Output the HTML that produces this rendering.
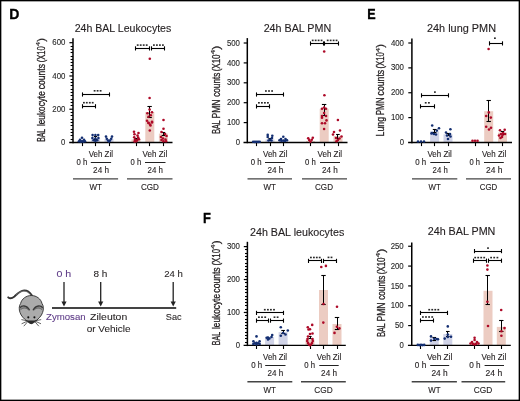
<!DOCTYPE html>
<html><head><meta charset="utf-8"><style>
html,body{margin:0;padding:0;background:#fff;}
body{width:520px;height:401px;overflow:hidden;font-family:"Liberation Sans", sans-serif;}
svg{display:block;}
</style></head><body>
<div style="will-change:transform;width:520px;height:401px"><svg width="520" height="401" viewBox="0 0 520 401" font-family='"Liberation Sans", sans-serif'>
<rect x="0" y="0" width="520" height="401" fill="#fff"/>
<text x="9.3" y="19" font-size="14" font-weight="bold" fill="#000" stroke="#000" stroke-width="0.3">D</text>
<text x="367.2" y="19.1" font-size="14" textLength="8.4" lengthAdjust="spacingAndGlyphs" font-weight="bold" fill="#000" stroke="#000" stroke-width="0.3">E</text>
<text x="202.9" y="223" font-size="14" textLength="7.9" lengthAdjust="spacingAndGlyphs" font-weight="bold" fill="#000" stroke="#000" stroke-width="0.3">F</text>
<rect x="77.5" y="141" width="9" height="1.5" fill="#d0d3e7"/>
<rect x="91.1" y="138.2" width="9" height="4.3" fill="#d0d3e7"/>
<rect x="104.5" y="139.2" width="9" height="3.3" fill="#d0d3e7"/>
<rect x="131.5" y="139.5" width="9" height="3" fill="#ecccc2"/>
<rect x="145.3" y="112.1" width="9" height="30.4" fill="#ecccc2"/>
<rect x="158.9" y="133.6" width="9" height="8.9" fill="#ecccc2"/>
<text x="74.7" y="32" font-size="10.2" textLength="96.6" lengthAdjust="spacingAndGlyphs" fill="#231f20" stroke="#231f20" stroke-width="0.12">24h BAL Leukocytes</text>
<text transform="translate(45.2,141.85) rotate(-90)" font-size="10.3" fill="#231f20" stroke="#231f20" stroke-width="0.3" textLength="12.8" lengthAdjust="spacingAndGlyphs">BAL</text>
<text transform="translate(45.2,126.05) rotate(-90)" font-size="10.3" fill="#231f20" stroke="#231f20" stroke-width="0.3" textLength="34.8" lengthAdjust="spacingAndGlyphs">leukocyte</text>
<text transform="translate(45.2,89.25) rotate(-90)" font-size="10.3" fill="#231f20" stroke="#231f20" stroke-width="0.3" textLength="25.2" lengthAdjust="spacingAndGlyphs">counts</text>
<text transform="translate(45.2,62.25) rotate(-90)" font-size="10.3" fill="#231f20" stroke="#231f20" stroke-width="0.3" textLength="16" lengthAdjust="spacingAndGlyphs">(X10</text>
<text transform="translate(40.3,46.31) rotate(-90)" font-size="6.0" fill="#231f20" stroke="#231f20" stroke-width="0.12" textLength="4.53" lengthAdjust="spacingAndGlyphs">4</text>
<text transform="translate(45.2,41.82) rotate(-90)" font-size="10.3" fill="#231f20" stroke="#231f20" stroke-width="0.3" textLength="3.77" lengthAdjust="spacingAndGlyphs">)</text>
<line x1="73" y1="38.2" x2="73" y2="143.2" stroke="#000" stroke-width="1.5"/>
<line x1="69.2" y1="142.5" x2="172.5" y2="142.5" stroke="#000" stroke-width="1.3"/>
<text x="65.4" y="145.1" font-size="8.6" text-anchor="end" textLength="4.3" lengthAdjust="spacingAndGlyphs" fill="#2a2a2a" stroke="#2a2a2a" stroke-width="0.12">0</text>
<line x1="69.4" y1="109.23" x2="73" y2="109.23" stroke="#000" stroke-width="1.2"/>
<text x="65.4" y="111.83" font-size="8.6" text-anchor="end" textLength="13.1" lengthAdjust="spacingAndGlyphs" fill="#2a2a2a" stroke="#2a2a2a" stroke-width="0.12">200</text>
<line x1="69.4" y1="75.97" x2="73" y2="75.97" stroke="#000" stroke-width="1.2"/>
<text x="65.4" y="78.57" font-size="8.6" text-anchor="end" textLength="13.1" lengthAdjust="spacingAndGlyphs" fill="#2a2a2a" stroke="#2a2a2a" stroke-width="0.12">400</text>
<line x1="69.4" y1="42.7" x2="73" y2="42.7" stroke="#000" stroke-width="1.2"/>
<text x="65.4" y="45.3" font-size="8.6" text-anchor="end" textLength="13.1" lengthAdjust="spacingAndGlyphs" fill="#2a2a2a" stroke="#2a2a2a" stroke-width="0.12">600</text>
<line x1="70.6" y1="139.5" x2="73" y2="139.5" stroke="#000" stroke-width="1.1"/>
<line x1="70.6" y1="135.5" x2="73" y2="135.5" stroke="#000" stroke-width="1.1"/>
<line x1="70.6" y1="132.5" x2="73" y2="132.5" stroke="#000" stroke-width="1.1"/>
<line x1="70.6" y1="129.5" x2="73" y2="129.5" stroke="#000" stroke-width="1.1"/>
<line x1="70.6" y1="125.5" x2="73" y2="125.5" stroke="#000" stroke-width="1.1"/>
<line x1="70.6" y1="122.5" x2="73" y2="122.5" stroke="#000" stroke-width="1.1"/>
<line x1="70.6" y1="119.5" x2="73" y2="119.5" stroke="#000" stroke-width="1.1"/>
<line x1="70.6" y1="115.5" x2="73" y2="115.5" stroke="#000" stroke-width="1.1"/>
<line x1="70.6" y1="112.5" x2="73" y2="112.5" stroke="#000" stroke-width="1.1"/>
<line x1="70.6" y1="105.5" x2="73" y2="105.5" stroke="#000" stroke-width="1.1"/>
<line x1="70.6" y1="102.5" x2="73" y2="102.5" stroke="#000" stroke-width="1.1"/>
<line x1="70.6" y1="99.5" x2="73" y2="99.5" stroke="#000" stroke-width="1.1"/>
<line x1="70.6" y1="95.5" x2="73" y2="95.5" stroke="#000" stroke-width="1.1"/>
<line x1="70.6" y1="92.5" x2="73" y2="92.5" stroke="#000" stroke-width="1.1"/>
<line x1="70.6" y1="89.5" x2="73" y2="89.5" stroke="#000" stroke-width="1.1"/>
<line x1="70.6" y1="85.5" x2="73" y2="85.5" stroke="#000" stroke-width="1.1"/>
<line x1="70.6" y1="82.5" x2="73" y2="82.5" stroke="#000" stroke-width="1.1"/>
<line x1="70.6" y1="79.5" x2="73" y2="79.5" stroke="#000" stroke-width="1.1"/>
<line x1="70.6" y1="72.5" x2="73" y2="72.5" stroke="#000" stroke-width="1.1"/>
<line x1="70.6" y1="69.5" x2="73" y2="69.5" stroke="#000" stroke-width="1.1"/>
<line x1="70.6" y1="65.5" x2="73" y2="65.5" stroke="#000" stroke-width="1.1"/>
<line x1="70.6" y1="62.5" x2="73" y2="62.5" stroke="#000" stroke-width="1.1"/>
<line x1="70.6" y1="59.5" x2="73" y2="59.5" stroke="#000" stroke-width="1.1"/>
<line x1="70.6" y1="56.5" x2="73" y2="56.5" stroke="#000" stroke-width="1.1"/>
<line x1="70.6" y1="52.5" x2="73" y2="52.5" stroke="#000" stroke-width="1.1"/>
<line x1="70.6" y1="49.5" x2="73" y2="49.5" stroke="#000" stroke-width="1.1"/>
<line x1="70.6" y1="46.5" x2="73" y2="46.5" stroke="#000" stroke-width="1.1"/>
<line x1="82.5" y1="142.5" x2="82.5" y2="146.1" stroke="#000" stroke-width="1.1"/>
<line x1="95.5" y1="142.5" x2="95.5" y2="146.1" stroke="#000" stroke-width="1.1"/>
<line x1="109.5" y1="142.5" x2="109.5" y2="146.1" stroke="#000" stroke-width="1.1"/>
<line x1="136.5" y1="142.5" x2="136.5" y2="146.1" stroke="#000" stroke-width="1.1"/>
<line x1="149.5" y1="142.5" x2="149.5" y2="146.1" stroke="#000" stroke-width="1.1"/>
<line x1="163.5" y1="142.5" x2="163.5" y2="146.1" stroke="#000" stroke-width="1.1"/>
<line x1="95.5" y1="136.8" x2="95.5" y2="139.4" stroke="#000" stroke-width="1.0"/>
<line x1="93.9" y1="136.5" x2="97.1" y2="136.5" stroke="#000" stroke-width="1.1"/>
<line x1="93.9" y1="139.5" x2="97.1" y2="139.5" stroke="#000" stroke-width="1.1"/>
<line x1="136.5" y1="138.4" x2="136.5" y2="140.2" stroke="#000" stroke-width="1.0"/>
<line x1="134.4" y1="138.5" x2="137.6" y2="138.5" stroke="#000" stroke-width="1.1"/>
<line x1="134.4" y1="140.5" x2="137.6" y2="140.5" stroke="#000" stroke-width="1.1"/>
<line x1="149.5" y1="106.6" x2="149.5" y2="117.3" stroke="#000" stroke-width="1.0"/>
<line x1="147.4" y1="106.5" x2="151.8" y2="106.5" stroke="#000" stroke-width="1.1"/>
<line x1="147.4" y1="117.5" x2="151.8" y2="117.5" stroke="#000" stroke-width="1.1"/>
<line x1="163.5" y1="132" x2="163.5" y2="135" stroke="#000" stroke-width="1.0"/>
<line x1="161.6" y1="132.5" x2="165.2" y2="132.5" stroke="#000" stroke-width="1.1"/>
<line x1="161.6" y1="135.5" x2="165.2" y2="135.5" stroke="#000" stroke-width="1.1"/>
<line x1="82.3" y1="94.5" x2="109.2" y2="94.5" stroke="#000" stroke-width="1.1"/>
<line x1="82.5" y1="92.4" x2="82.5" y2="96.6" stroke="#000" stroke-width="1.1"/>
<line x1="109.5" y1="92.4" x2="109.5" y2="96.6" stroke="#000" stroke-width="1.1"/>
<rect x="93.7" y="90" width="1.8" height="1.6" fill="#2a2a2a"/>
<rect x="96.7" y="90" width="1.8" height="1.6" fill="#2a2a2a"/>
<rect x="99.7" y="90" width="1.8" height="1.6" fill="#2a2a2a"/>
<line x1="82" y1="106.5" x2="95" y2="106.5" stroke="#000" stroke-width="1.1"/>
<line x1="82.5" y1="104.2" x2="82.5" y2="108.4" stroke="#000" stroke-width="1.1"/>
<line x1="95.5" y1="104.2" x2="95.5" y2="108.4" stroke="#000" stroke-width="1.1"/>
<rect x="83" y="101.9" width="1.8" height="1.6" fill="#2a2a2a"/>
<rect x="85.9" y="101.9" width="1.8" height="1.6" fill="#2a2a2a"/>
<rect x="88.9" y="101.9" width="1.8" height="1.6" fill="#2a2a2a"/>
<rect x="91.8" y="101.9" width="1.8" height="1.6" fill="#2a2a2a"/>
<line x1="135.5" y1="48.5" x2="149.8" y2="48.5" stroke="#000" stroke-width="1.1"/>
<line x1="135.5" y1="46.3" x2="135.5" y2="50.5" stroke="#000" stroke-width="1.1"/>
<line x1="149.5" y1="46.3" x2="149.5" y2="50.5" stroke="#000" stroke-width="1.1"/>
<rect x="136.8" y="44.3" width="1.8" height="1.6" fill="#2a2a2a"/>
<rect x="139.8" y="44.3" width="1.8" height="1.6" fill="#2a2a2a"/>
<rect x="142.8" y="44.3" width="1.8" height="1.6" fill="#2a2a2a"/>
<rect x="145.8" y="44.3" width="1.8" height="1.6" fill="#2a2a2a"/>
<line x1="151.2" y1="48.5" x2="164.5" y2="48.5" stroke="#000" stroke-width="1.1"/>
<line x1="151.5" y1="46.3" x2="151.5" y2="50.5" stroke="#000" stroke-width="1.1"/>
<line x1="164.5" y1="46.3" x2="164.5" y2="50.5" stroke="#000" stroke-width="1.1"/>
<rect x="153" y="44.3" width="1.8" height="1.6" fill="#2a2a2a"/>
<rect x="156" y="44.3" width="1.8" height="1.6" fill="#2a2a2a"/>
<rect x="159" y="44.3" width="1.8" height="1.6" fill="#2a2a2a"/>
<rect x="162" y="44.3" width="1.8" height="1.6" fill="#2a2a2a"/>
<text x="88.8" y="157.2" font-size="8.2" textLength="24.1" lengthAdjust="spacingAndGlyphs" fill="#231f20" stroke="#231f20" stroke-width="0.12">Veh Zil</text>
<text x="76.6" y="165" font-size="8.2" textLength="10.8" lengthAdjust="spacingAndGlyphs" fill="#231f20" stroke="#231f20" stroke-width="0.12">0 h</text>
<line x1="90.8" y1="162.5" x2="111.1" y2="162.5" stroke="#222" stroke-width="1.0"/>
<text x="93.1" y="173.1" font-size="8.2" textLength="15.9" lengthAdjust="spacingAndGlyphs" fill="#231f20" stroke="#231f20" stroke-width="0.12">24 h</text>
<line x1="73" y1="178.9" x2="118.1" y2="178.9" stroke="#444" stroke-width="1.4"/>
<text x="89.5" y="189.6" font-size="8.2" textLength="12.4" lengthAdjust="spacingAndGlyphs" fill="#231f20" stroke="#231f20" stroke-width="0.12">WT</text>
<text x="142.6" y="157.2" font-size="8.2" textLength="24.6" lengthAdjust="spacingAndGlyphs" fill="#231f20" stroke="#231f20" stroke-width="0.12">Veh Zil</text>
<text x="130.6" y="165" font-size="8.2" textLength="10.6" lengthAdjust="spacingAndGlyphs" fill="#231f20" stroke="#231f20" stroke-width="0.12">0 h</text>
<line x1="145" y1="162.5" x2="165.5" y2="162.5" stroke="#222" stroke-width="1.0"/>
<text x="147.6" y="173.1" font-size="8.2" textLength="15.4" lengthAdjust="spacingAndGlyphs" fill="#231f20" stroke="#231f20" stroke-width="0.12">24 h</text>
<line x1="127" y1="178.9" x2="172.5" y2="178.9" stroke="#444" stroke-width="1.4"/>
<text x="140.9" y="189.6" font-size="8.2" textLength="18" lengthAdjust="spacingAndGlyphs" fill="#231f20" stroke="#231f20" stroke-width="0.12">CGD</text>
<rect x="265.5" y="139.5" width="9" height="3" fill="#d0d3e7"/>
<rect x="278.8" y="140" width="9" height="2.5" fill="#d0d3e7"/>
<rect x="306" y="141" width="9" height="1.5" fill="#ecccc2"/>
<rect x="319.7" y="108.8" width="9" height="33.7" fill="#ecccc2"/>
<rect x="333.5" y="136" width="9" height="6.5" fill="#ecccc2"/>
<text x="263.65" y="31.8" font-size="10.2" textLength="67.5" lengthAdjust="spacingAndGlyphs" fill="#231f20" stroke="#231f20" stroke-width="0.12">24h BAL PMN</text>
<text transform="translate(219.7,133.75) rotate(-90)" font-size="10.3" fill="#231f20" stroke="#231f20" stroke-width="0.3" textLength="13.6" lengthAdjust="spacingAndGlyphs">BAL</text>
<text transform="translate(219.7,118.55) rotate(-90)" font-size="10.3" fill="#231f20" stroke="#231f20" stroke-width="0.3" textLength="19.1" lengthAdjust="spacingAndGlyphs">PMN</text>
<text transform="translate(219.7,96.85) rotate(-90)" font-size="10.3" fill="#231f20" stroke="#231f20" stroke-width="0.3" textLength="24.2" lengthAdjust="spacingAndGlyphs">counts</text>
<text transform="translate(219.7,71.35) rotate(-90)" font-size="10.3" fill="#231f20" stroke="#231f20" stroke-width="0.3" textLength="16.91" lengthAdjust="spacingAndGlyphs">(X10</text>
<text transform="translate(214.8,54.46) rotate(-90)" font-size="6.0" fill="#231f20" stroke="#231f20" stroke-width="0.12" textLength="4.75" lengthAdjust="spacingAndGlyphs">4</text>
<text transform="translate(219.7,49.69) rotate(-90)" font-size="10.3" fill="#231f20" stroke="#231f20" stroke-width="0.3" textLength="3.94" lengthAdjust="spacingAndGlyphs">)</text>
<line x1="247.3" y1="38.1" x2="247.3" y2="143.2" stroke="#000" stroke-width="1.5"/>
<line x1="243.5" y1="142.5" x2="347.5" y2="142.5" stroke="#000" stroke-width="1.3"/>
<text x="240" y="145.1" font-size="8.6" text-anchor="end" textLength="4.3" lengthAdjust="spacingAndGlyphs" fill="#2a2a2a" stroke="#2a2a2a" stroke-width="0.12">0</text>
<line x1="243.7" y1="122.6" x2="247.3" y2="122.6" stroke="#000" stroke-width="1.2"/>
<text x="240" y="125.2" font-size="8.6" text-anchor="end" textLength="13.1" lengthAdjust="spacingAndGlyphs" fill="#2a2a2a" stroke="#2a2a2a" stroke-width="0.12">100</text>
<line x1="243.7" y1="102.7" x2="247.3" y2="102.7" stroke="#000" stroke-width="1.2"/>
<text x="240" y="105.3" font-size="8.6" text-anchor="end" textLength="13.1" lengthAdjust="spacingAndGlyphs" fill="#2a2a2a" stroke="#2a2a2a" stroke-width="0.12">200</text>
<line x1="243.7" y1="82.8" x2="247.3" y2="82.8" stroke="#000" stroke-width="1.2"/>
<text x="240" y="85.4" font-size="8.6" text-anchor="end" textLength="13.1" lengthAdjust="spacingAndGlyphs" fill="#2a2a2a" stroke="#2a2a2a" stroke-width="0.12">300</text>
<line x1="243.7" y1="62.9" x2="247.3" y2="62.9" stroke="#000" stroke-width="1.2"/>
<text x="240" y="65.5" font-size="8.6" text-anchor="end" textLength="13.1" lengthAdjust="spacingAndGlyphs" fill="#2a2a2a" stroke="#2a2a2a" stroke-width="0.12">400</text>
<line x1="243.7" y1="43" x2="247.3" y2="43" stroke="#000" stroke-width="1.2"/>
<text x="240" y="45.6" font-size="8.6" text-anchor="end" textLength="13.1" lengthAdjust="spacingAndGlyphs" fill="#2a2a2a" stroke="#2a2a2a" stroke-width="0.12">500</text>
<line x1="256.5" y1="142.5" x2="256.5" y2="146.1" stroke="#000" stroke-width="1.1"/>
<line x1="270.5" y1="142.5" x2="270.5" y2="146.1" stroke="#000" stroke-width="1.1"/>
<line x1="283.5" y1="142.5" x2="283.5" y2="146.1" stroke="#000" stroke-width="1.1"/>
<line x1="310.5" y1="142.5" x2="310.5" y2="146.1" stroke="#000" stroke-width="1.1"/>
<line x1="324.5" y1="142.5" x2="324.5" y2="146.1" stroke="#000" stroke-width="1.1"/>
<line x1="338.5" y1="142.5" x2="338.5" y2="146.1" stroke="#000" stroke-width="1.1"/>
<line x1="270.5" y1="138.8" x2="270.5" y2="140.5" stroke="#000" stroke-width="1.0"/>
<line x1="268.4" y1="138.5" x2="271.6" y2="138.5" stroke="#000" stroke-width="1.1"/>
<line x1="268.4" y1="140.5" x2="271.6" y2="140.5" stroke="#000" stroke-width="1.1"/>
<line x1="324.5" y1="104" x2="324.5" y2="115.3" stroke="#000" stroke-width="1.0"/>
<line x1="321.9" y1="104.5" x2="326.3" y2="104.5" stroke="#000" stroke-width="1.1"/>
<line x1="321.9" y1="115.5" x2="326.3" y2="115.5" stroke="#000" stroke-width="1.1"/>
<line x1="337.5" y1="134.1" x2="337.5" y2="138" stroke="#000" stroke-width="1.0"/>
<line x1="336.1" y1="134.5" x2="339.7" y2="134.5" stroke="#000" stroke-width="1.1"/>
<line x1="336.1" y1="138.5" x2="339.7" y2="138.5" stroke="#000" stroke-width="1.1"/>
<line x1="256.7" y1="94.5" x2="283.5" y2="94.5" stroke="#000" stroke-width="1.1"/>
<line x1="256.5" y1="92.4" x2="256.5" y2="96.6" stroke="#000" stroke-width="1.1"/>
<line x1="283.5" y1="92.4" x2="283.5" y2="96.6" stroke="#000" stroke-width="1.1"/>
<rect x="265" y="90.2" width="1.8" height="1.6" fill="#2a2a2a"/>
<rect x="268.1" y="90.2" width="1.8" height="1.6" fill="#2a2a2a"/>
<rect x="271.2" y="90.2" width="1.8" height="1.6" fill="#2a2a2a"/>
<line x1="256.3" y1="106.5" x2="269.3" y2="106.5" stroke="#000" stroke-width="1.1"/>
<line x1="256.5" y1="104.3" x2="256.5" y2="108.5" stroke="#000" stroke-width="1.1"/>
<line x1="269.5" y1="104.3" x2="269.5" y2="108.5" stroke="#000" stroke-width="1.1"/>
<rect x="258" y="102" width="1.8" height="1.6" fill="#2a2a2a"/>
<rect x="261" y="102" width="1.8" height="1.6" fill="#2a2a2a"/>
<rect x="264" y="102" width="1.8" height="1.6" fill="#2a2a2a"/>
<rect x="267" y="102" width="1.8" height="1.6" fill="#2a2a2a"/>
<line x1="310.4" y1="43.5" x2="323.5" y2="43.5" stroke="#000" stroke-width="1.1"/>
<line x1="310.5" y1="41.4" x2="310.5" y2="45.6" stroke="#000" stroke-width="1.1"/>
<line x1="323.5" y1="41.4" x2="323.5" y2="45.6" stroke="#000" stroke-width="1.1"/>
<rect x="311.8" y="39.6" width="1.8" height="1.6" fill="#2a2a2a"/>
<rect x="314.75" y="39.6" width="1.8" height="1.6" fill="#2a2a2a"/>
<rect x="317.7" y="39.6" width="1.8" height="1.6" fill="#2a2a2a"/>
<rect x="320.65" y="39.6" width="1.8" height="1.6" fill="#2a2a2a"/>
<line x1="324.8" y1="43.5" x2="338.8" y2="43.5" stroke="#000" stroke-width="1.1"/>
<line x1="324.5" y1="41.4" x2="324.5" y2="45.6" stroke="#000" stroke-width="1.1"/>
<line x1="338.5" y1="41.4" x2="338.5" y2="45.6" stroke="#000" stroke-width="1.1"/>
<rect x="326.8" y="39.6" width="1.8" height="1.6" fill="#2a2a2a"/>
<rect x="329.75" y="39.6" width="1.8" height="1.6" fill="#2a2a2a"/>
<rect x="332.7" y="39.6" width="1.8" height="1.6" fill="#2a2a2a"/>
<rect x="335.65" y="39.6" width="1.8" height="1.6" fill="#2a2a2a"/>
<text x="263" y="157.2" font-size="8.2" textLength="24.4" lengthAdjust="spacingAndGlyphs" fill="#231f20" stroke="#231f20" stroke-width="0.12">Veh Zil</text>
<text x="250.8" y="165" font-size="8.2" textLength="10.8" lengthAdjust="spacingAndGlyphs" fill="#231f20" stroke="#231f20" stroke-width="0.12">0 h</text>
<line x1="265" y1="162.5" x2="285" y2="162.5" stroke="#222" stroke-width="1.0"/>
<text x="267.5" y="173.1" font-size="8.2" textLength="15.9" lengthAdjust="spacingAndGlyphs" fill="#231f20" stroke="#231f20" stroke-width="0.12">24 h</text>
<line x1="247.5" y1="178.9" x2="292" y2="178.9" stroke="#444" stroke-width="1.4"/>
<text x="263.5" y="189.6" font-size="8.2" textLength="12.4" lengthAdjust="spacingAndGlyphs" fill="#231f20" stroke="#231f20" stroke-width="0.12">WT</text>
<text x="317.5" y="157.2" font-size="8.2" textLength="24.6" lengthAdjust="spacingAndGlyphs" fill="#231f20" stroke="#231f20" stroke-width="0.12">Veh Zil</text>
<text x="305" y="165" font-size="8.2" textLength="10.8" lengthAdjust="spacingAndGlyphs" fill="#231f20" stroke="#231f20" stroke-width="0.12">0 h</text>
<line x1="320" y1="162.5" x2="340" y2="162.5" stroke="#222" stroke-width="1.0"/>
<text x="322" y="173.1" font-size="8.2" textLength="15.9" lengthAdjust="spacingAndGlyphs" fill="#231f20" stroke="#231f20" stroke-width="0.12">24 h</text>
<line x1="302" y1="178.9" x2="347" y2="178.9" stroke="#444" stroke-width="1.4"/>
<text x="315" y="189.6" font-size="8.2" textLength="18" lengthAdjust="spacingAndGlyphs" fill="#231f20" stroke="#231f20" stroke-width="0.12">CGD</text>
<rect x="430.1" y="131.3" width="9" height="11.2" fill="#d0d3e7"/>
<rect x="443.5" y="134.3" width="9" height="8.2" fill="#d0d3e7"/>
<rect x="470.5" y="141" width="9" height="1.5" fill="#ecccc2"/>
<rect x="484.2" y="111.2" width="9" height="31.3" fill="#ecccc2"/>
<rect x="498" y="132.6" width="9" height="9.9" fill="#ecccc2"/>
<text x="427" y="31.7" font-size="10.2" textLength="69" lengthAdjust="spacingAndGlyphs" fill="#231f20" stroke="#231f20" stroke-width="0.12">24h lung PMN</text>
<text transform="translate(384.4,136.45) rotate(-90)" font-size="10.3" fill="#231f20" stroke="#231f20" stroke-width="0.3" textLength="19.6" lengthAdjust="spacingAndGlyphs">Lung</text>
<text transform="translate(384.4,115.35) rotate(-90)" font-size="10.3" fill="#231f20" stroke="#231f20" stroke-width="0.3" textLength="18.1" lengthAdjust="spacingAndGlyphs">PMN</text>
<text transform="translate(384.4,95.45) rotate(-90)" font-size="10.3" fill="#231f20" stroke="#231f20" stroke-width="0.3" textLength="25.6" lengthAdjust="spacingAndGlyphs">counts</text>
<text transform="translate(384.4,68.45) rotate(-90)" font-size="10.3" fill="#231f20" stroke="#231f20" stroke-width="0.3" textLength="16.19" lengthAdjust="spacingAndGlyphs">(X10</text>
<text transform="translate(379.5,52.31) rotate(-90)" font-size="6.0" fill="#231f20" stroke="#231f20" stroke-width="0.12" textLength="4.58" lengthAdjust="spacingAndGlyphs">4</text>
<text transform="translate(384.4,47.75) rotate(-90)" font-size="10.3" fill="#231f20" stroke="#231f20" stroke-width="0.3" textLength="3.8" lengthAdjust="spacingAndGlyphs">)</text>
<line x1="411.9" y1="38.4" x2="411.9" y2="143.2" stroke="#000" stroke-width="1.5"/>
<line x1="408.1" y1="142.5" x2="512" y2="142.5" stroke="#000" stroke-width="1.3"/>
<text x="404" y="145.1" font-size="8.6" text-anchor="end" textLength="4.3" lengthAdjust="spacingAndGlyphs" fill="#2a2a2a" stroke="#2a2a2a" stroke-width="0.12">0</text>
<line x1="408.3" y1="117.62" x2="411.9" y2="117.62" stroke="#000" stroke-width="1.2"/>
<text x="404" y="120.22" font-size="8.6" text-anchor="end" textLength="13.1" lengthAdjust="spacingAndGlyphs" fill="#2a2a2a" stroke="#2a2a2a" stroke-width="0.12">100</text>
<line x1="408.3" y1="92.75" x2="411.9" y2="92.75" stroke="#000" stroke-width="1.2"/>
<text x="404" y="95.35" font-size="8.6" text-anchor="end" textLength="13.1" lengthAdjust="spacingAndGlyphs" fill="#2a2a2a" stroke="#2a2a2a" stroke-width="0.12">200</text>
<line x1="408.3" y1="67.88" x2="411.9" y2="67.88" stroke="#000" stroke-width="1.2"/>
<text x="404" y="70.47" font-size="8.6" text-anchor="end" textLength="13.1" lengthAdjust="spacingAndGlyphs" fill="#2a2a2a" stroke="#2a2a2a" stroke-width="0.12">300</text>
<line x1="408.3" y1="43" x2="411.9" y2="43" stroke="#000" stroke-width="1.2"/>
<text x="404" y="45.6" font-size="8.6" text-anchor="end" textLength="13.1" lengthAdjust="spacingAndGlyphs" fill="#2a2a2a" stroke="#2a2a2a" stroke-width="0.12">400</text>
<line x1="421.5" y1="142.5" x2="421.5" y2="146.1" stroke="#000" stroke-width="1.1"/>
<line x1="434.5" y1="142.5" x2="434.5" y2="146.1" stroke="#000" stroke-width="1.1"/>
<line x1="448.5" y1="142.5" x2="448.5" y2="146.1" stroke="#000" stroke-width="1.1"/>
<line x1="475.5" y1="142.5" x2="475.5" y2="146.1" stroke="#000" stroke-width="1.1"/>
<line x1="488.5" y1="142.5" x2="488.5" y2="146.1" stroke="#000" stroke-width="1.1"/>
<line x1="502.5" y1="142.5" x2="502.5" y2="146.1" stroke="#000" stroke-width="1.1"/>
<line x1="434.5" y1="129.5" x2="434.5" y2="132.4" stroke="#000" stroke-width="1.0"/>
<line x1="432.8" y1="129.5" x2="436.4" y2="129.5" stroke="#000" stroke-width="1.1"/>
<line x1="432.8" y1="132.5" x2="436.4" y2="132.5" stroke="#000" stroke-width="1.1"/>
<line x1="448.5" y1="133" x2="448.5" y2="135.5" stroke="#000" stroke-width="1.0"/>
<line x1="446.2" y1="133.5" x2="449.8" y2="133.5" stroke="#000" stroke-width="1.1"/>
<line x1="446.2" y1="135.5" x2="449.8" y2="135.5" stroke="#000" stroke-width="1.1"/>
<line x1="488.5" y1="100.5" x2="488.5" y2="121.9" stroke="#000" stroke-width="1.0"/>
<line x1="486.5" y1="100.5" x2="490.9" y2="100.5" stroke="#000" stroke-width="1.1"/>
<line x1="486.5" y1="121.5" x2="490.9" y2="121.5" stroke="#000" stroke-width="1.1"/>
<line x1="502.5" y1="131" x2="502.5" y2="134" stroke="#000" stroke-width="1.0"/>
<line x1="500.7" y1="131.5" x2="504.3" y2="131.5" stroke="#000" stroke-width="1.1"/>
<line x1="500.7" y1="134.5" x2="504.3" y2="134.5" stroke="#000" stroke-width="1.1"/>
<line x1="421.3" y1="95.5" x2="448.2" y2="95.5" stroke="#000" stroke-width="1.1"/>
<line x1="421.5" y1="93.3" x2="421.5" y2="97.5" stroke="#000" stroke-width="1.1"/>
<line x1="448.5" y1="93.3" x2="448.5" y2="97.5" stroke="#000" stroke-width="1.1"/>
<rect x="434" y="91.3" width="1.8" height="1.6" fill="#2a2a2a"/>
<line x1="420.5" y1="106.5" x2="434" y2="106.5" stroke="#000" stroke-width="1.1"/>
<line x1="420.5" y1="104.3" x2="420.5" y2="108.5" stroke="#000" stroke-width="1.1"/>
<line x1="434.5" y1="104.3" x2="434.5" y2="108.5" stroke="#000" stroke-width="1.1"/>
<rect x="424.8" y="102" width="1.8" height="1.6" fill="#2a2a2a"/>
<rect x="428" y="102" width="1.8" height="1.6" fill="#2a2a2a"/>
<line x1="489" y1="43.5" x2="502.7" y2="43.5" stroke="#000" stroke-width="1.1"/>
<line x1="489.5" y1="41.3" x2="489.5" y2="45.5" stroke="#000" stroke-width="1.1"/>
<line x1="502.5" y1="41.3" x2="502.5" y2="45.5" stroke="#000" stroke-width="1.1"/>
<rect x="494" y="37.4" width="1.8" height="1.6" fill="#2a2a2a"/>
<text x="427.5" y="157.2" font-size="8.2" textLength="24.3" lengthAdjust="spacingAndGlyphs" fill="#231f20" stroke="#231f20" stroke-width="0.12">Veh Zil</text>
<text x="415.2" y="165" font-size="8.2" textLength="11" lengthAdjust="spacingAndGlyphs" fill="#231f20" stroke="#231f20" stroke-width="0.12">0 h</text>
<line x1="430.3" y1="162.5" x2="450" y2="162.5" stroke="#222" stroke-width="1.0"/>
<text x="432.6" y="173.1" font-size="8.2" textLength="15.1" lengthAdjust="spacingAndGlyphs" fill="#231f20" stroke="#231f20" stroke-width="0.12">24 h</text>
<line x1="412" y1="178.9" x2="457.3" y2="178.9" stroke="#444" stroke-width="1.4"/>
<text x="428.6" y="189.6" font-size="8.2" textLength="12.2" lengthAdjust="spacingAndGlyphs" fill="#231f20" stroke="#231f20" stroke-width="0.12">WT</text>
<text x="482" y="157.2" font-size="8.2" textLength="24.25" lengthAdjust="spacingAndGlyphs" fill="#231f20" stroke="#231f20" stroke-width="0.12">Veh Zil</text>
<text x="469.5" y="165" font-size="8.2" textLength="10.5" lengthAdjust="spacingAndGlyphs" fill="#231f20" stroke="#231f20" stroke-width="0.12">0 h</text>
<line x1="484" y1="162.5" x2="503.8" y2="162.5" stroke="#222" stroke-width="1.0"/>
<text x="486" y="173.1" font-size="8.2" textLength="16.5" lengthAdjust="spacingAndGlyphs" fill="#231f20" stroke="#231f20" stroke-width="0.12">24 h</text>
<line x1="466" y1="178.9" x2="511" y2="178.9" stroke="#444" stroke-width="1.4"/>
<text x="479.8" y="189.6" font-size="8.2" textLength="17.5" lengthAdjust="spacingAndGlyphs" fill="#231f20" stroke="#231f20" stroke-width="0.12">CGD</text>
<rect x="251.9" y="343" width="9" height="2.4" fill="#d0d3e7"/>
<rect x="265.1" y="337" width="9" height="8.4" fill="#d0d3e7"/>
<rect x="278.6" y="332.1" width="9" height="13.3" fill="#d0d3e7"/>
<rect x="305.5" y="339.5" width="9" height="5.9" fill="#ecccc2"/>
<rect x="319" y="290" width="9" height="55.4" fill="#ecccc2"/>
<rect x="332.5" y="324" width="9" height="21.4" fill="#ecccc2"/>
<text x="250" y="235.5" font-size="10.2" textLength="94.25" lengthAdjust="spacingAndGlyphs" fill="#231f20" stroke="#231f20" stroke-width="0.12">24h BAL leukocytes</text>
<text transform="translate(219.8,345.25) rotate(-90)" font-size="10.3" fill="#231f20" stroke="#231f20" stroke-width="0.3" textLength="13.3" lengthAdjust="spacingAndGlyphs">BAL</text>
<text transform="translate(219.8,329.05) rotate(-90)" font-size="10.3" fill="#231f20" stroke="#231f20" stroke-width="0.3" textLength="35.1" lengthAdjust="spacingAndGlyphs">leukocyte</text>
<text transform="translate(219.8,292.65) rotate(-90)" font-size="10.3" fill="#231f20" stroke="#231f20" stroke-width="0.3" textLength="25.2" lengthAdjust="spacingAndGlyphs">counts</text>
<text transform="translate(219.8,265.55) rotate(-90)" font-size="10.3" fill="#231f20" stroke="#231f20" stroke-width="0.3" textLength="16.65" lengthAdjust="spacingAndGlyphs">(X10</text>
<text transform="translate(214.9,248.93) rotate(-90)" font-size="6.0" fill="#231f20" stroke="#231f20" stroke-width="0.12" textLength="4.69" lengthAdjust="spacingAndGlyphs">4</text>
<text transform="translate(219.8,244.24) rotate(-90)" font-size="10.3" fill="#231f20" stroke="#231f20" stroke-width="0.3" textLength="3.89" lengthAdjust="spacingAndGlyphs">)</text>
<line x1="247.4" y1="241.8" x2="247.4" y2="346.1" stroke="#000" stroke-width="1.5"/>
<line x1="243.6" y1="345.4" x2="345.8" y2="345.4" stroke="#000" stroke-width="1.3"/>
<text x="240" y="348" font-size="8.6" text-anchor="end" textLength="4.3" lengthAdjust="spacingAndGlyphs" fill="#2a2a2a" stroke="#2a2a2a" stroke-width="0.12">0</text>
<line x1="243.8" y1="312.47" x2="247.4" y2="312.47" stroke="#000" stroke-width="1.2"/>
<text x="240" y="315.07" font-size="8.6" text-anchor="end" textLength="13.1" lengthAdjust="spacingAndGlyphs" fill="#2a2a2a" stroke="#2a2a2a" stroke-width="0.12">100</text>
<line x1="243.8" y1="279.53" x2="247.4" y2="279.53" stroke="#000" stroke-width="1.2"/>
<text x="240" y="282.13" font-size="8.6" text-anchor="end" textLength="13.1" lengthAdjust="spacingAndGlyphs" fill="#2a2a2a" stroke="#2a2a2a" stroke-width="0.12">200</text>
<line x1="243.8" y1="246.6" x2="247.4" y2="246.6" stroke="#000" stroke-width="1.2"/>
<text x="240" y="249.2" font-size="8.6" text-anchor="end" textLength="13.1" lengthAdjust="spacingAndGlyphs" fill="#2a2a2a" stroke="#2a2a2a" stroke-width="0.12">300</text>
<line x1="245" y1="342.5" x2="247.4" y2="342.5" stroke="#000" stroke-width="1.1"/>
<line x1="245" y1="338.5" x2="247.4" y2="338.5" stroke="#000" stroke-width="1.1"/>
<line x1="245" y1="335.5" x2="247.4" y2="335.5" stroke="#000" stroke-width="1.1"/>
<line x1="245" y1="332.5" x2="247.4" y2="332.5" stroke="#000" stroke-width="1.1"/>
<line x1="245" y1="328.5" x2="247.4" y2="328.5" stroke="#000" stroke-width="1.1"/>
<line x1="245" y1="325.5" x2="247.4" y2="325.5" stroke="#000" stroke-width="1.1"/>
<line x1="245" y1="322.5" x2="247.4" y2="322.5" stroke="#000" stroke-width="1.1"/>
<line x1="245" y1="319.5" x2="247.4" y2="319.5" stroke="#000" stroke-width="1.1"/>
<line x1="245" y1="315.5" x2="247.4" y2="315.5" stroke="#000" stroke-width="1.1"/>
<line x1="245" y1="309.5" x2="247.4" y2="309.5" stroke="#000" stroke-width="1.1"/>
<line x1="245" y1="305.5" x2="247.4" y2="305.5" stroke="#000" stroke-width="1.1"/>
<line x1="245" y1="302.5" x2="247.4" y2="302.5" stroke="#000" stroke-width="1.1"/>
<line x1="245" y1="299.5" x2="247.4" y2="299.5" stroke="#000" stroke-width="1.1"/>
<line x1="245" y1="296.5" x2="247.4" y2="296.5" stroke="#000" stroke-width="1.1"/>
<line x1="245" y1="292.5" x2="247.4" y2="292.5" stroke="#000" stroke-width="1.1"/>
<line x1="245" y1="289.5" x2="247.4" y2="289.5" stroke="#000" stroke-width="1.1"/>
<line x1="245" y1="286.5" x2="247.4" y2="286.5" stroke="#000" stroke-width="1.1"/>
<line x1="245" y1="282.5" x2="247.4" y2="282.5" stroke="#000" stroke-width="1.1"/>
<line x1="245" y1="276.5" x2="247.4" y2="276.5" stroke="#000" stroke-width="1.1"/>
<line x1="245" y1="272.5" x2="247.4" y2="272.5" stroke="#000" stroke-width="1.1"/>
<line x1="245" y1="269.5" x2="247.4" y2="269.5" stroke="#000" stroke-width="1.1"/>
<line x1="245" y1="266.5" x2="247.4" y2="266.5" stroke="#000" stroke-width="1.1"/>
<line x1="245" y1="263.5" x2="247.4" y2="263.5" stroke="#000" stroke-width="1.1"/>
<line x1="245" y1="259.5" x2="247.4" y2="259.5" stroke="#000" stroke-width="1.1"/>
<line x1="245" y1="256.5" x2="247.4" y2="256.5" stroke="#000" stroke-width="1.1"/>
<line x1="245" y1="253.5" x2="247.4" y2="253.5" stroke="#000" stroke-width="1.1"/>
<line x1="245" y1="249.5" x2="247.4" y2="249.5" stroke="#000" stroke-width="1.1"/>
<line x1="256.5" y1="345.4" x2="256.5" y2="349" stroke="#000" stroke-width="1.1"/>
<line x1="269.5" y1="345.4" x2="269.5" y2="349" stroke="#000" stroke-width="1.1"/>
<line x1="283.5" y1="345.4" x2="283.5" y2="349" stroke="#000" stroke-width="1.1"/>
<line x1="310.5" y1="345.4" x2="310.5" y2="349" stroke="#000" stroke-width="1.1"/>
<line x1="323.5" y1="345.4" x2="323.5" y2="349" stroke="#000" stroke-width="1.1"/>
<line x1="337.5" y1="345.4" x2="337.5" y2="349" stroke="#000" stroke-width="1.1"/>
<line x1="283.5" y1="330.1" x2="283.5" y2="333" stroke="#000" stroke-width="1.0"/>
<line x1="281.3" y1="330.5" x2="284.9" y2="330.5" stroke="#000" stroke-width="1.1"/>
<line x1="281.3" y1="333.5" x2="284.9" y2="333.5" stroke="#000" stroke-width="1.1"/>
<line x1="310.5" y1="336.2" x2="310.5" y2="338.5" stroke="#000" stroke-width="1.0"/>
<line x1="308.4" y1="336.5" x2="311.6" y2="336.5" stroke="#000" stroke-width="1.1"/>
<line x1="308.4" y1="338.5" x2="311.6" y2="338.5" stroke="#000" stroke-width="1.1"/>
<line x1="323.5" y1="275.7" x2="323.5" y2="304.5" stroke="#000" stroke-width="1.0"/>
<line x1="321.3" y1="275.5" x2="325.7" y2="275.5" stroke="#000" stroke-width="1.1"/>
<line x1="321.3" y1="304.5" x2="325.7" y2="304.5" stroke="#000" stroke-width="1.1"/>
<line x1="337.5" y1="317.6" x2="337.5" y2="329.3" stroke="#000" stroke-width="1.0"/>
<line x1="334.8" y1="317.5" x2="339.2" y2="317.5" stroke="#000" stroke-width="1.1"/>
<line x1="334.8" y1="329.5" x2="339.2" y2="329.5" stroke="#000" stroke-width="1.1"/>
<line x1="256.3" y1="312.5" x2="283.2" y2="312.5" stroke="#000" stroke-width="1.1"/>
<line x1="256.5" y1="310.8" x2="256.5" y2="315" stroke="#000" stroke-width="1.1"/>
<line x1="283.5" y1="310.8" x2="283.5" y2="315" stroke="#000" stroke-width="1.1"/>
<rect x="263.9" y="308.9" width="1.8" height="1.6" fill="#2a2a2a"/>
<rect x="267" y="308.9" width="1.8" height="1.6" fill="#2a2a2a"/>
<rect x="270" y="308.9" width="1.8" height="1.6" fill="#2a2a2a"/>
<rect x="273.1" y="308.9" width="1.8" height="1.6" fill="#2a2a2a"/>
<line x1="256.3" y1="320.5" x2="268.5" y2="320.5" stroke="#000" stroke-width="1.1"/>
<line x1="256.5" y1="318.5" x2="256.5" y2="322.7" stroke="#000" stroke-width="1.1"/>
<line x1="268.5" y1="318.5" x2="268.5" y2="322.7" stroke="#000" stroke-width="1.1"/>
<rect x="258" y="316.4" width="1.8" height="1.6" fill="#2a2a2a"/>
<rect x="261.1" y="316.4" width="1.8" height="1.6" fill="#2a2a2a"/>
<rect x="264.3" y="316.4" width="1.8" height="1.6" fill="#2a2a2a"/>
<line x1="270.4" y1="320.5" x2="283" y2="320.5" stroke="#000" stroke-width="1.1"/>
<line x1="270.5" y1="318.5" x2="270.5" y2="322.7" stroke="#000" stroke-width="1.1"/>
<line x1="283.5" y1="318.5" x2="283.5" y2="322.7" stroke="#000" stroke-width="1.1"/>
<rect x="273.6" y="316.4" width="1.8" height="1.6" fill="#2a2a2a"/>
<rect x="276.7" y="316.4" width="1.8" height="1.6" fill="#2a2a2a"/>
<line x1="308.5" y1="260.5" x2="321.5" y2="260.5" stroke="#000" stroke-width="1.1"/>
<line x1="308.5" y1="258.8" x2="308.5" y2="263" stroke="#000" stroke-width="1.1"/>
<line x1="321.5" y1="258.8" x2="321.5" y2="263" stroke="#000" stroke-width="1.1"/>
<rect x="310" y="256.7" width="1.8" height="1.6" fill="#2a2a2a"/>
<rect x="313" y="256.7" width="1.8" height="1.6" fill="#2a2a2a"/>
<rect x="315.9" y="256.7" width="1.8" height="1.6" fill="#2a2a2a"/>
<rect x="318.8" y="256.7" width="1.8" height="1.6" fill="#2a2a2a"/>
<line x1="323.4" y1="260.5" x2="336.5" y2="260.5" stroke="#000" stroke-width="1.1"/>
<line x1="323.5" y1="258.8" x2="323.5" y2="263" stroke="#000" stroke-width="1.1"/>
<line x1="336.5" y1="258.8" x2="336.5" y2="263" stroke="#000" stroke-width="1.1"/>
<rect x="327.6" y="256.6" width="1.8" height="1.6" fill="#2a2a2a"/>
<rect x="330.6" y="256.6" width="1.8" height="1.6" fill="#2a2a2a"/>
<text x="263.1" y="360.1" font-size="8.2" textLength="24" lengthAdjust="spacingAndGlyphs" fill="#231f20" stroke="#231f20" stroke-width="0.12">Veh Zil</text>
<text x="251.2" y="367.9" font-size="8.2" textLength="11" lengthAdjust="spacingAndGlyphs" fill="#231f20" stroke="#231f20" stroke-width="0.12">0 h</text>
<line x1="265.2" y1="365.5" x2="285.5" y2="365.5" stroke="#222" stroke-width="1.0"/>
<text x="267.6" y="376" font-size="8.2" textLength="15.7" lengthAdjust="spacingAndGlyphs" fill="#231f20" stroke="#231f20" stroke-width="0.12">24 h</text>
<line x1="247.4" y1="381.8" x2="292.3" y2="381.8" stroke="#444" stroke-width="1.4"/>
<text x="263.5" y="392.5" font-size="8.2" textLength="12.4" lengthAdjust="spacingAndGlyphs" fill="#231f20" stroke="#231f20" stroke-width="0.12">WT</text>
<text x="316.8" y="360.1" font-size="8.2" textLength="24.5" lengthAdjust="spacingAndGlyphs" fill="#231f20" stroke="#231f20" stroke-width="0.12">Veh Zil</text>
<text x="304.2" y="367.9" font-size="8.2" textLength="10.8" lengthAdjust="spacingAndGlyphs" fill="#231f20" stroke="#231f20" stroke-width="0.12">0 h</text>
<line x1="319.3" y1="365.5" x2="338.7" y2="365.5" stroke="#222" stroke-width="1.0"/>
<text x="321.1" y="376" font-size="8.2" textLength="15.9" lengthAdjust="spacingAndGlyphs" fill="#231f20" stroke="#231f20" stroke-width="0.12">24 h</text>
<line x1="301" y1="381.8" x2="345.8" y2="381.8" stroke="#444" stroke-width="1.4"/>
<text x="314.3" y="392.5" font-size="8.2" textLength="18.4" lengthAdjust="spacingAndGlyphs" fill="#231f20" stroke="#231f20" stroke-width="0.12">CGD</text>
<rect x="429.7" y="337.8" width="9" height="7.6" fill="#d0d3e7"/>
<rect x="443.3" y="334.1" width="9" height="11.3" fill="#d0d3e7"/>
<rect x="470" y="342" width="9" height="3.4" fill="#ecccc2"/>
<rect x="483.5" y="290.8" width="9" height="54.6" fill="#ecccc2"/>
<rect x="496.8" y="326.9" width="9" height="18.5" fill="#ecccc2"/>
<text x="427.7" y="235.4" font-size="10.2" textLength="67.7" lengthAdjust="spacingAndGlyphs" fill="#231f20" stroke="#231f20" stroke-width="0.12">24h BAL PMN</text>
<text transform="translate(384.6,336.75) rotate(-90)" font-size="10.3" fill="#231f20" stroke="#231f20" stroke-width="0.3" textLength="13.6" lengthAdjust="spacingAndGlyphs">BAL</text>
<text transform="translate(384.6,321.55) rotate(-90)" font-size="10.3" fill="#231f20" stroke="#231f20" stroke-width="0.3" textLength="19.1" lengthAdjust="spacingAndGlyphs">PMN</text>
<text transform="translate(384.6,299.85) rotate(-90)" font-size="10.3" fill="#231f20" stroke="#231f20" stroke-width="0.3" textLength="24.2" lengthAdjust="spacingAndGlyphs">counts</text>
<text transform="translate(384.6,274.35) rotate(-90)" font-size="10.3" fill="#231f20" stroke="#231f20" stroke-width="0.3" textLength="16.91" lengthAdjust="spacingAndGlyphs">(X10</text>
<text transform="translate(379.7,257.46) rotate(-90)" font-size="6.0" fill="#231f20" stroke="#231f20" stroke-width="0.12" textLength="4.75" lengthAdjust="spacingAndGlyphs">4</text>
<text transform="translate(384.6,252.69) rotate(-90)" font-size="10.3" fill="#231f20" stroke="#231f20" stroke-width="0.3" textLength="3.94" lengthAdjust="spacingAndGlyphs">)</text>
<line x1="411.75" y1="242.5" x2="411.75" y2="346.1" stroke="#000" stroke-width="1.5"/>
<line x1="407.95" y1="345.4" x2="510.8" y2="345.4" stroke="#000" stroke-width="1.3"/>
<text x="403.75" y="348" font-size="8.6" text-anchor="end" textLength="4.3" lengthAdjust="spacingAndGlyphs" fill="#2a2a2a" stroke="#2a2a2a" stroke-width="0.12">0</text>
<line x1="408.15" y1="325.57" x2="411.75" y2="325.57" stroke="#000" stroke-width="1.2"/>
<text x="403.75" y="328.17" font-size="8.6" text-anchor="end" textLength="8.8" lengthAdjust="spacingAndGlyphs" fill="#2a2a2a" stroke="#2a2a2a" stroke-width="0.12">50</text>
<line x1="408.15" y1="305.74" x2="411.75" y2="305.74" stroke="#000" stroke-width="1.2"/>
<text x="403.75" y="308.34" font-size="8.6" text-anchor="end" textLength="13.1" lengthAdjust="spacingAndGlyphs" fill="#2a2a2a" stroke="#2a2a2a" stroke-width="0.12">100</text>
<line x1="408.15" y1="285.91" x2="411.75" y2="285.91" stroke="#000" stroke-width="1.2"/>
<text x="403.75" y="288.51" font-size="8.6" text-anchor="end" textLength="13.1" lengthAdjust="spacingAndGlyphs" fill="#2a2a2a" stroke="#2a2a2a" stroke-width="0.12">150</text>
<line x1="408.15" y1="266.08" x2="411.75" y2="266.08" stroke="#000" stroke-width="1.2"/>
<text x="403.75" y="268.68" font-size="8.6" text-anchor="end" textLength="13.1" lengthAdjust="spacingAndGlyphs" fill="#2a2a2a" stroke="#2a2a2a" stroke-width="0.12">200</text>
<line x1="408.15" y1="246.25" x2="411.75" y2="246.25" stroke="#000" stroke-width="1.2"/>
<text x="403.75" y="248.85" font-size="8.6" text-anchor="end" textLength="13.1" lengthAdjust="spacingAndGlyphs" fill="#2a2a2a" stroke="#2a2a2a" stroke-width="0.12">250</text>
<line x1="420.5" y1="345.4" x2="420.5" y2="349" stroke="#000" stroke-width="1.1"/>
<line x1="434.5" y1="345.4" x2="434.5" y2="349" stroke="#000" stroke-width="1.1"/>
<line x1="447.5" y1="345.4" x2="447.5" y2="349" stroke="#000" stroke-width="1.1"/>
<line x1="474.5" y1="345.4" x2="474.5" y2="349" stroke="#000" stroke-width="1.1"/>
<line x1="488.5" y1="345.4" x2="488.5" y2="349" stroke="#000" stroke-width="1.1"/>
<line x1="501.5" y1="345.4" x2="501.5" y2="349" stroke="#000" stroke-width="1.1"/>
<line x1="434.5" y1="337.2" x2="434.5" y2="340" stroke="#000" stroke-width="1.0"/>
<line x1="432.4" y1="337.5" x2="436" y2="337.5" stroke="#000" stroke-width="1.1"/>
<line x1="432.4" y1="340.5" x2="436" y2="340.5" stroke="#000" stroke-width="1.1"/>
<line x1="447.5" y1="331.3" x2="447.5" y2="336" stroke="#000" stroke-width="1.0"/>
<line x1="446" y1="331.5" x2="449.6" y2="331.5" stroke="#000" stroke-width="1.1"/>
<line x1="446" y1="336.5" x2="449.6" y2="336.5" stroke="#000" stroke-width="1.1"/>
<line x1="487.5" y1="275.7" x2="487.5" y2="304.5" stroke="#000" stroke-width="1.0"/>
<line x1="485.5" y1="275.5" x2="489.9" y2="275.5" stroke="#000" stroke-width="1.1"/>
<line x1="485.5" y1="304.5" x2="489.9" y2="304.5" stroke="#000" stroke-width="1.1"/>
<line x1="501.5" y1="320.4" x2="501.5" y2="331.8" stroke="#000" stroke-width="1.0"/>
<line x1="499.1" y1="320.5" x2="503.5" y2="320.5" stroke="#000" stroke-width="1.1"/>
<line x1="499.1" y1="331.5" x2="503.5" y2="331.5" stroke="#000" stroke-width="1.1"/>
<line x1="420.8" y1="312.5" x2="447.5" y2="312.5" stroke="#000" stroke-width="1.1"/>
<line x1="420.5" y1="310.8" x2="420.5" y2="315" stroke="#000" stroke-width="1.1"/>
<line x1="447.5" y1="310.8" x2="447.5" y2="315" stroke="#000" stroke-width="1.1"/>
<rect x="428.3" y="308.9" width="1.8" height="1.6" fill="#2a2a2a"/>
<rect x="431.33" y="308.9" width="1.8" height="1.6" fill="#2a2a2a"/>
<rect x="434.36" y="308.9" width="1.8" height="1.6" fill="#2a2a2a"/>
<rect x="437.39" y="308.9" width="1.8" height="1.6" fill="#2a2a2a"/>
<line x1="420.8" y1="320.5" x2="433" y2="320.5" stroke="#000" stroke-width="1.1"/>
<line x1="420.5" y1="318.4" x2="420.5" y2="322.6" stroke="#000" stroke-width="1.1"/>
<line x1="433.5" y1="318.4" x2="433.5" y2="322.6" stroke="#000" stroke-width="1.1"/>
<rect x="422" y="316.2" width="1.8" height="1.6" fill="#2a2a2a"/>
<rect x="425.1" y="316.2" width="1.8" height="1.6" fill="#2a2a2a"/>
<rect x="428.2" y="316.2" width="1.8" height="1.6" fill="#2a2a2a"/>
<rect x="431.3" y="316.2" width="1.8" height="1.6" fill="#2a2a2a"/>
<line x1="474.7" y1="251.5" x2="501.2" y2="251.5" stroke="#000" stroke-width="1.1"/>
<line x1="474.5" y1="249" x2="474.5" y2="253.2" stroke="#000" stroke-width="1.1"/>
<line x1="501.5" y1="249" x2="501.5" y2="253.2" stroke="#000" stroke-width="1.1"/>
<rect x="487.1" y="247.3" width="1.8" height="1.6" fill="#2a2a2a"/>
<line x1="473.3" y1="260.5" x2="486.1" y2="260.5" stroke="#000" stroke-width="1.1"/>
<line x1="473.5" y1="258.6" x2="473.5" y2="262.8" stroke="#000" stroke-width="1.1"/>
<line x1="486.5" y1="258.6" x2="486.5" y2="262.8" stroke="#000" stroke-width="1.1"/>
<rect x="474.3" y="256.8" width="1.8" height="1.6" fill="#2a2a2a"/>
<rect x="477.3" y="256.8" width="1.8" height="1.6" fill="#2a2a2a"/>
<rect x="480.3" y="256.8" width="1.8" height="1.6" fill="#2a2a2a"/>
<rect x="483.3" y="256.8" width="1.8" height="1.6" fill="#2a2a2a"/>
<line x1="488.1" y1="260.5" x2="501.2" y2="260.5" stroke="#000" stroke-width="1.1"/>
<line x1="488.5" y1="258.6" x2="488.5" y2="262.8" stroke="#000" stroke-width="1.1"/>
<line x1="501.5" y1="258.6" x2="501.5" y2="262.8" stroke="#000" stroke-width="1.1"/>
<rect x="490.2" y="256.8" width="1.8" height="1.6" fill="#2a2a2a"/>
<rect x="493.3" y="256.8" width="1.8" height="1.6" fill="#2a2a2a"/>
<rect x="496.5" y="256.8" width="1.8" height="1.6" fill="#2a2a2a"/>
<text x="427" y="360.1" font-size="8.2" textLength="25.3" lengthAdjust="spacingAndGlyphs" fill="#231f20" stroke="#231f20" stroke-width="0.12">Veh Zil</text>
<text x="414.8" y="367.9" font-size="8.2" textLength="11.4" lengthAdjust="spacingAndGlyphs" fill="#231f20" stroke="#231f20" stroke-width="0.12">0 h</text>
<line x1="430.2" y1="365.5" x2="449.2" y2="365.5" stroke="#222" stroke-width="1.0"/>
<text x="431.4" y="376" font-size="8.2" textLength="16.3" lengthAdjust="spacingAndGlyphs" fill="#231f20" stroke="#231f20" stroke-width="0.12">24 h</text>
<line x1="411.7" y1="381.8" x2="456.9" y2="381.8" stroke="#444" stroke-width="1.4"/>
<text x="428.3" y="392.5" font-size="8.2" textLength="12.3" lengthAdjust="spacingAndGlyphs" fill="#231f20" stroke="#231f20" stroke-width="0.12">WT</text>
<text x="481.5" y="360.1" font-size="8.2" textLength="24.7" lengthAdjust="spacingAndGlyphs" fill="#231f20" stroke="#231f20" stroke-width="0.12">Veh Zil</text>
<text x="469.2" y="367.9" font-size="8.2" textLength="11.4" lengthAdjust="spacingAndGlyphs" fill="#231f20" stroke="#231f20" stroke-width="0.12">0 h</text>
<line x1="484.6" y1="365.5" x2="504" y2="365.5" stroke="#222" stroke-width="1.0"/>
<text x="485.5" y="376" font-size="8.2" textLength="16.7" lengthAdjust="spacingAndGlyphs" fill="#231f20" stroke="#231f20" stroke-width="0.12">24 h</text>
<line x1="461.5" y1="381.8" x2="505.2" y2="381.8" stroke="#444" stroke-width="1.4"/>
<text x="473.8" y="392.5" font-size="8.2" textLength="18.5" lengthAdjust="spacingAndGlyphs" fill="#231f20" stroke="#231f20" stroke-width="0.12">CGD</text>
<line x1="52" y1="308" x2="176.2" y2="308" stroke="#444" stroke-width="1.9"/>
<line x1="64" y1="282" x2="64" y2="302.5" stroke="#222" stroke-width="1.3"/>
<path d="M61.4,301.5 L66.6,301.5 L64,306.5 Z" fill="#222"/>
<line x1="100.7" y1="282" x2="100.7" y2="302.5" stroke="#222" stroke-width="1.3"/>
<path d="M98.1,301.5 L103.3,301.5 L100.7,306.5 Z" fill="#222"/>
<line x1="173.2" y1="282" x2="173.2" y2="302.5" stroke="#222" stroke-width="1.3"/>
<path d="M170.6,301.5 L175.8,301.5 L173.2,306.5 Z" fill="#222"/>
<text x="56.5" y="277.4" font-size="9.6" textLength="14.8" lengthAdjust="spacingAndGlyphs" fill="#5e3b87" stroke="#5e3b87" stroke-width="0.08">0 h</text>
<text x="93.5" y="277.4" font-size="9.6" textLength="13.9" lengthAdjust="spacingAndGlyphs" fill="#231f20" stroke="#231f20" stroke-width="0.08">8 h</text>
<text x="164.2" y="277.4" font-size="9.6" textLength="18.7" lengthAdjust="spacingAndGlyphs" fill="#231f20" stroke="#231f20" stroke-width="0.08">24 h</text>
<text x="46" y="320" font-size="9.6" textLength="39.6" lengthAdjust="spacingAndGlyphs" fill="#5e3b87" stroke="#5e3b87" stroke-width="0.08">Zymosan</text>
<text x="90.1" y="320" font-size="9.6" textLength="37.1" lengthAdjust="spacingAndGlyphs" fill="#231f20" stroke="#231f20" stroke-width="0.08">Zileuton</text>
<text x="86.7" y="332" font-size="9.6" textLength="43.9" lengthAdjust="spacingAndGlyphs" fill="#231f20" stroke="#231f20" stroke-width="0.08">or Vehicle</text>
<text x="165.8" y="320" font-size="9.6" textLength="15.8" lengthAdjust="spacingAndGlyphs" fill="#231f20" stroke="#231f20" stroke-width="0.08">Sac</text>
<g>
<path d="M8.2,297.3 C9.5,298.6 12,298.5 14.5,296.5 C17,294.3 19.5,291.2 23,290.6 C26.5,290 29.5,291.8 31.8,295.2" fill="none" stroke="#333" stroke-width="1.9" stroke-linecap="round"/>
<path d="M16,295.2 C18.5,292.8 20.5,291.3 23,291.1 C26,290.8 28.5,292.3 30.5,294.8" fill="none" stroke="#8a8a8a" stroke-width="0.6"/>
<path d="M31.3,295.5 C36.5,295.5 41,299 42,303.5 C43.6,305.5 43.8,309.5 42.6,312.5 C41.5,316 38.5,318.8 36.2,320.6 C34.8,321.8 33,323.4 31.3,323.7 C29.6,323.4 27.8,321.8 26.4,320.6 C24.1,318.8 21.1,316 20,312.5 C18.8,309.5 19,305.5 20.6,303.5 C21.6,299 26.1,295.5 31.3,295.5 Z" fill="#ababab" stroke="#2e2e2e" stroke-width="0.9"/>
<path d="M19.6,308.2 C21.5,305.3 26.5,304.6 29.6,310.6 L28.4,310.6 C26.3,307.6 22.5,307.6 20.4,310.4 Z" fill="#8c8c8c"/>
<path d="M19.8,308 C21.5,305.3 26.5,304.6 29.6,310.3" fill="none" stroke="#3a3a3a" stroke-width="1.3"/>
<path d="M20.6,309.8 C22.5,307.6 26.3,307.4 28.3,309.8" fill="none" stroke="#555" stroke-width="0.7"/>
<path d="M43,308.2 C41.1,305.3 36.1,304.6 33,310.6 L34.2,310.6 C36.3,307.6 40.1,307.6 42.2,310.4 Z" fill="#8c8c8c"/>
<path d="M42.8,308 C41.1,305.3 36.1,304.6 33,310.3" fill="none" stroke="#3a3a3a" stroke-width="1.3"/>
<path d="M42,309.8 C40.1,307.6 36.3,307.4 34.3,309.8" fill="none" stroke="#555" stroke-width="0.7"/>
<ellipse cx="28.3" cy="317.3" rx="1.05" ry="1.1" fill="#111"/>
<ellipse cx="34.4" cy="317.3" rx="1.05" ry="1.1" fill="#111"/>
<path d="M26,319.9 C28.5,320.6 34.1,320.6 36.6,319.9 C35,321.8 33,323.6 31.3,324 C29.6,323.6 27.6,321.8 26,319.9 Z" fill="#2a2a2a"/>
<path d="M26.8,320.7 L21.4,319.6 M26.8,321.4 L21.6,323.8 M27.4,322 L23.8,326.2 M35.8,320.7 L41.2,319.6 M35.8,321.4 L41,323.8 M35.2,322 L38.8,326.2" stroke="#222" stroke-width="0.7"/>
</g>
<circle cx="82" cy="137.8" r="1.3" fill="#142f72"/>
<circle cx="80" cy="139.8" r="1.3" fill="#142f72"/>
<circle cx="84" cy="139.8" r="1.3" fill="#142f72"/>
<circle cx="79" cy="141.3" r="1.3" fill="#142f72"/>
<circle cx="85" cy="141.3" r="1.3" fill="#142f72"/>
<circle cx="82" cy="141.2" r="1.3" fill="#142f72"/>
<circle cx="80.8" cy="141.6" r="1.3" fill="#142f72"/>
<circle cx="83.2" cy="141.6" r="1.3" fill="#142f72"/>
<circle cx="92.6" cy="135.1" r="1.3" fill="#142f72"/>
<circle cx="95.4" cy="135.1" r="1.3" fill="#142f72"/>
<circle cx="98.2" cy="135.1" r="1.3" fill="#142f72"/>
<circle cx="92.4" cy="138" r="1.3" fill="#142f72"/>
<circle cx="98.4" cy="138" r="1.3" fill="#142f72"/>
<circle cx="95.4" cy="138.6" r="1.3" fill="#142f72"/>
<circle cx="93.6" cy="140.2" r="1.3" fill="#142f72"/>
<circle cx="97.2" cy="140.2" r="1.3" fill="#142f72"/>
<circle cx="95.4" cy="141" r="1.3" fill="#142f72"/>
<circle cx="106" cy="136.6" r="1.3" fill="#142f72"/>
<circle cx="112" cy="136.6" r="1.3" fill="#142f72"/>
<circle cx="106.8" cy="138.8" r="1.3" fill="#142f72"/>
<circle cx="111.2" cy="138.8" r="1.3" fill="#142f72"/>
<circle cx="108" cy="140.5" r="1.3" fill="#142f72"/>
<circle cx="110" cy="140.5" r="1.3" fill="#142f72"/>
<circle cx="109" cy="141.4" r="1.3" fill="#142f72"/>
<circle cx="134" cy="131.7" r="1.3" fill="#ad0a28"/>
<circle cx="138.5" cy="133" r="1.3" fill="#ad0a28"/>
<circle cx="134.5" cy="134.3" r="1.3" fill="#ad0a28"/>
<circle cx="137.5" cy="135.6" r="1.3" fill="#ad0a28"/>
<circle cx="134.2" cy="137.2" r="1.3" fill="#ad0a28"/>
<circle cx="138.2" cy="137.6" r="1.3" fill="#ad0a28"/>
<circle cx="135" cy="139.5" r="1.3" fill="#ad0a28"/>
<circle cx="137.2" cy="140" r="1.3" fill="#ad0a28"/>
<circle cx="139" cy="139.2" r="1.3" fill="#ad0a28"/>
<circle cx="136.3" cy="141.2" r="1.3" fill="#ad0a28"/>
<circle cx="134.6" cy="141.4" r="1.3" fill="#ad0a28"/>
<circle cx="149.8" cy="58.8" r="1.3" fill="#ad0a28"/>
<circle cx="149.6" cy="98" r="1.3" fill="#ad0a28"/>
<circle cx="149.6" cy="109.6" r="1.3" fill="#ad0a28"/>
<circle cx="147.4" cy="113.3" r="1.3" fill="#ad0a28"/>
<circle cx="152" cy="112.2" r="1.3" fill="#ad0a28"/>
<circle cx="150.8" cy="115.2" r="1.3" fill="#ad0a28"/>
<circle cx="148.5" cy="116.7" r="1.3" fill="#ad0a28"/>
<circle cx="147" cy="120.8" r="1.3" fill="#ad0a28"/>
<circle cx="148.5" cy="122.7" r="1.3" fill="#ad0a28"/>
<circle cx="152" cy="121.8" r="1.3" fill="#ad0a28"/>
<circle cx="150" cy="124.5" r="1.3" fill="#ad0a28"/>
<circle cx="148.5" cy="123" r="1.3" fill="#ad0a28"/>
<circle cx="150.5" cy="125.5" r="1.3" fill="#ad0a28"/>
<circle cx="152" cy="122.5" r="1.3" fill="#ad0a28"/>
<circle cx="149.8" cy="130.5" r="1.3" fill="#ad0a28"/>
<circle cx="163.5" cy="120" r="1.3" fill="#ad0a28"/>
<circle cx="163.5" cy="128.8" r="1.3" fill="#ad0a28"/>
<circle cx="161.5" cy="132" r="1.3" fill="#ad0a28"/>
<circle cx="165" cy="134" r="1.3" fill="#ad0a28"/>
<circle cx="166.5" cy="136" r="1.3" fill="#ad0a28"/>
<circle cx="161" cy="137" r="1.3" fill="#ad0a28"/>
<circle cx="163" cy="138.5" r="1.3" fill="#ad0a28"/>
<circle cx="165.5" cy="139.5" r="1.3" fill="#ad0a28"/>
<circle cx="161.5" cy="140" r="1.3" fill="#ad0a28"/>
<circle cx="163.5" cy="141.2" r="1.3" fill="#ad0a28"/>
<circle cx="166" cy="141.2" r="1.3" fill="#ad0a28"/>
<circle cx="253.2" cy="141.7" r="1.3" fill="#142f72"/>
<circle cx="254.9" cy="141.9" r="1.3" fill="#142f72"/>
<circle cx="256.5" cy="141.7" r="1.3" fill="#142f72"/>
<circle cx="258.1" cy="141.9" r="1.3" fill="#142f72"/>
<circle cx="259.7" cy="141.7" r="1.3" fill="#142f72"/>
<circle cx="267.7" cy="134.9" r="1.3" fill="#142f72"/>
<circle cx="272.3" cy="135.7" r="1.3" fill="#142f72"/>
<circle cx="267.7" cy="137" r="1.3" fill="#142f72"/>
<circle cx="272" cy="138" r="1.3" fill="#142f72"/>
<circle cx="270" cy="139.5" r="1.3" fill="#142f72"/>
<circle cx="268.5" cy="140.5" r="1.3" fill="#142f72"/>
<circle cx="271.5" cy="140.5" r="1.3" fill="#142f72"/>
<circle cx="283.3" cy="136.8" r="1.3" fill="#142f72"/>
<circle cx="281" cy="139" r="1.3" fill="#142f72"/>
<circle cx="285.5" cy="139" r="1.3" fill="#142f72"/>
<circle cx="279.5" cy="140.3" r="1.3" fill="#142f72"/>
<circle cx="287" cy="140.3" r="1.3" fill="#142f72"/>
<circle cx="283.3" cy="140.6" r="1.3" fill="#142f72"/>
<circle cx="285" cy="141" r="1.3" fill="#142f72"/>
<circle cx="281.5" cy="141" r="1.3" fill="#142f72"/>
<circle cx="308.2" cy="138.2" r="1.3" fill="#ad0a28"/>
<circle cx="312.8" cy="137.8" r="1.3" fill="#ad0a28"/>
<circle cx="309.2" cy="140" r="1.3" fill="#ad0a28"/>
<circle cx="311.8" cy="139.8" r="1.3" fill="#ad0a28"/>
<circle cx="310.5" cy="141.6" r="1.3" fill="#ad0a28"/>
<circle cx="324.2" cy="51.5" r="1.3" fill="#ad0a28"/>
<circle cx="324.4" cy="95.2" r="1.3" fill="#ad0a28"/>
<circle cx="322" cy="108.8" r="1.3" fill="#ad0a28"/>
<circle cx="326" cy="108.8" r="1.3" fill="#ad0a28"/>
<circle cx="324.1" cy="107.5" r="1.3" fill="#ad0a28"/>
<circle cx="324.1" cy="113" r="1.3" fill="#ad0a28"/>
<circle cx="322" cy="116" r="1.3" fill="#ad0a28"/>
<circle cx="326" cy="116" r="1.3" fill="#ad0a28"/>
<circle cx="322" cy="117.8" r="1.3" fill="#ad0a28"/>
<circle cx="326.5" cy="120.4" r="1.3" fill="#ad0a28"/>
<circle cx="322" cy="123.3" r="1.3" fill="#ad0a28"/>
<circle cx="325" cy="123.3" r="1.3" fill="#ad0a28"/>
<circle cx="324.1" cy="129" r="1.3" fill="#ad0a28"/>
<circle cx="337.9" cy="120" r="1.3" fill="#ad0a28"/>
<circle cx="334" cy="132" r="1.3" fill="#ad0a28"/>
<circle cx="340" cy="130.5" r="1.3" fill="#ad0a28"/>
<circle cx="333" cy="134.5" r="1.3" fill="#ad0a28"/>
<circle cx="341.5" cy="136.5" r="1.3" fill="#ad0a28"/>
<circle cx="336" cy="138" r="1.3" fill="#ad0a28"/>
<circle cx="339.5" cy="138.5" r="1.3" fill="#ad0a28"/>
<circle cx="337.9" cy="140" r="1.3" fill="#ad0a28"/>
<circle cx="336.5" cy="141.3" r="1.3" fill="#ad0a28"/>
<circle cx="418" cy="141.5" r="1.3" fill="#142f72"/>
<circle cx="421" cy="141.5" r="1.3" fill="#142f72"/>
<circle cx="424" cy="141.5" r="1.3" fill="#142f72"/>
<circle cx="432.2" cy="125.5" r="1.3" fill="#142f72"/>
<circle cx="439" cy="128.2" r="1.3" fill="#142f72"/>
<circle cx="436.8" cy="130.6" r="1.3" fill="#142f72"/>
<circle cx="432" cy="133" r="1.3" fill="#142f72"/>
<circle cx="434" cy="134" r="1.3" fill="#142f72"/>
<circle cx="436" cy="134.5" r="1.3" fill="#142f72"/>
<circle cx="431.5" cy="133.5" r="1.3" fill="#142f72"/>
<circle cx="450.4" cy="129.2" r="1.3" fill="#142f72"/>
<circle cx="446" cy="132.5" r="1.3" fill="#142f72"/>
<circle cx="447" cy="135.5" r="1.3" fill="#142f72"/>
<circle cx="450" cy="134" r="1.3" fill="#142f72"/>
<circle cx="450.5" cy="136.5" r="1.3" fill="#142f72"/>
<circle cx="448" cy="139" r="1.3" fill="#142f72"/>
<circle cx="472.5" cy="140.8" r="1.3" fill="#ad0a28"/>
<circle cx="475" cy="140.8" r="1.3" fill="#ad0a28"/>
<circle cx="477.5" cy="140.8" r="1.3" fill="#ad0a28"/>
<circle cx="488.6" cy="49" r="1.3" fill="#ad0a28"/>
<circle cx="488.8" cy="112.4" r="1.3" fill="#ad0a28"/>
<circle cx="486.2" cy="116" r="1.3" fill="#ad0a28"/>
<circle cx="490.8" cy="117.6" r="1.3" fill="#ad0a28"/>
<circle cx="486.2" cy="126.7" r="1.3" fill="#ad0a28"/>
<circle cx="489" cy="129.5" r="1.3" fill="#ad0a28"/>
<circle cx="491" cy="127.8" r="1.3" fill="#ad0a28"/>
<circle cx="500" cy="130.3" r="1.3" fill="#ad0a28"/>
<circle cx="504.7" cy="129.7" r="1.3" fill="#ad0a28"/>
<circle cx="501" cy="134" r="1.3" fill="#ad0a28"/>
<circle cx="503" cy="133" r="1.3" fill="#ad0a28"/>
<circle cx="499" cy="135.5" r="1.3" fill="#ad0a28"/>
<circle cx="502" cy="137" r="1.3" fill="#ad0a28"/>
<circle cx="500.5" cy="138" r="1.3" fill="#ad0a28"/>
<circle cx="505" cy="134" r="1.3" fill="#ad0a28"/>
<circle cx="502.5" cy="135" r="1.3" fill="#ad0a28"/>
<circle cx="256.5" cy="336.4" r="1.3" fill="#142f72"/>
<circle cx="253.4" cy="341.3" r="1.3" fill="#142f72"/>
<circle cx="259.6" cy="341.3" r="1.3" fill="#142f72"/>
<circle cx="254.8" cy="343.2" r="1.3" fill="#142f72"/>
<circle cx="258.2" cy="343.2" r="1.3" fill="#142f72"/>
<circle cx="256.5" cy="344.5" r="1.3" fill="#142f72"/>
<circle cx="253.4" cy="343.9" r="1.3" fill="#142f72"/>
<circle cx="259.6" cy="343.9" r="1.3" fill="#142f72"/>
<circle cx="256.5" cy="342.8" r="1.3" fill="#142f72"/>
<circle cx="268" cy="337.5" r="1.3" fill="#142f72"/>
<circle cx="269.4" cy="338.5" r="1.3" fill="#142f72"/>
<circle cx="271.5" cy="337" r="1.3" fill="#142f72"/>
<circle cx="272.2" cy="335" r="1.3" fill="#142f72"/>
<circle cx="268" cy="339.5" r="1.3" fill="#142f72"/>
<circle cx="266.7" cy="337.7" r="1.3" fill="#142f72"/>
<circle cx="280.8" cy="327.3" r="1.3" fill="#142f72"/>
<circle cx="287.8" cy="330.5" r="1.3" fill="#142f72"/>
<circle cx="280.8" cy="335.7" r="1.3" fill="#142f72"/>
<circle cx="285.5" cy="334.5" r="1.3" fill="#142f72"/>
<circle cx="283.1" cy="333" r="1.3" fill="#142f72"/>
<circle cx="312.2" cy="324.9" r="1.3" fill="#ad0a28"/>
<circle cx="307.8" cy="327.3" r="1.3" fill="#ad0a28"/>
<circle cx="308.5" cy="329.5" r="1.3" fill="#ad0a28"/>
<circle cx="310" cy="329.2" r="1.3" fill="#ad0a28"/>
<circle cx="312.5" cy="333.5" r="1.3" fill="#ad0a28"/>
<circle cx="310" cy="334" r="1.3" fill="#ad0a28"/>
<circle cx="308" cy="336.5" r="1.3" fill="#ad0a28"/>
<circle cx="307.5" cy="339" r="1.3" fill="#ad0a28"/>
<circle cx="312.5" cy="339" r="1.3" fill="#ad0a28"/>
<circle cx="307.2" cy="341" r="1.3" fill="#ad0a28"/>
<circle cx="312.8" cy="341" r="1.3" fill="#ad0a28"/>
<circle cx="308" cy="343" r="1.3" fill="#ad0a28"/>
<circle cx="312" cy="343" r="1.3" fill="#ad0a28"/>
<circle cx="309" cy="344.5" r="1.3" fill="#ad0a28"/>
<circle cx="311" cy="344.5" r="1.3" fill="#ad0a28"/>
<circle cx="310" cy="345.2" r="1.3" fill="#ad0a28"/>
<circle cx="321.3" cy="267" r="1.3" fill="#ad0a28"/>
<circle cx="325.9" cy="265.9" r="1.3" fill="#ad0a28"/>
<circle cx="323.5" cy="304" r="1.3" fill="#ad0a28"/>
<circle cx="323.3" cy="322.6" r="1.3" fill="#ad0a28"/>
<circle cx="337" cy="306.7" r="1.3" fill="#ad0a28"/>
<circle cx="336.9" cy="326.7" r="1.3" fill="#ad0a28"/>
<circle cx="339.4" cy="328.4" r="1.3" fill="#ad0a28"/>
<circle cx="334.5" cy="332.9" r="1.3" fill="#ad0a28"/>
<circle cx="417.8" cy="344.9" r="1.3" fill="#142f72"/>
<circle cx="419.4" cy="345.1" r="1.3" fill="#142f72"/>
<circle cx="421" cy="344.9" r="1.3" fill="#142f72"/>
<circle cx="422.6" cy="345.1" r="1.3" fill="#142f72"/>
<circle cx="424.2" cy="344.9" r="1.3" fill="#142f72"/>
<circle cx="431" cy="336.4" r="1.3" fill="#142f72"/>
<circle cx="431" cy="340.6" r="1.3" fill="#142f72"/>
<circle cx="434.2" cy="338.8" r="1.3" fill="#142f72"/>
<circle cx="436.5" cy="339" r="1.3" fill="#142f72"/>
<circle cx="438" cy="339.3" r="1.3" fill="#142f72"/>
<circle cx="447.8" cy="326.4" r="1.3" fill="#142f72"/>
<circle cx="447.8" cy="334.5" r="1.3" fill="#142f72"/>
<circle cx="451" cy="336.7" r="1.3" fill="#142f72"/>
<circle cx="444.7" cy="338.6" r="1.3" fill="#142f72"/>
<circle cx="447.8" cy="337" r="1.3" fill="#142f72"/>
<circle cx="474.6" cy="337.7" r="1.3" fill="#ad0a28"/>
<circle cx="474.6" cy="340" r="1.3" fill="#ad0a28"/>
<circle cx="472" cy="342" r="1.3" fill="#ad0a28"/>
<circle cx="477" cy="342" r="1.3" fill="#ad0a28"/>
<circle cx="470.5" cy="343.5" r="1.3" fill="#ad0a28"/>
<circle cx="478.5" cy="343.5" r="1.3" fill="#ad0a28"/>
<circle cx="474.6" cy="344.5" r="1.3" fill="#ad0a28"/>
<circle cx="473" cy="344" r="1.3" fill="#ad0a28"/>
<circle cx="476" cy="344" r="1.3" fill="#ad0a28"/>
<circle cx="487.4" cy="265.5" r="1.3" fill="#ad0a28"/>
<circle cx="487.4" cy="269.6" r="1.3" fill="#ad0a28"/>
<circle cx="487.4" cy="301.7" r="1.3" fill="#ad0a28"/>
<circle cx="488" cy="326" r="1.3" fill="#ad0a28"/>
<circle cx="501.2" cy="310" r="1.3" fill="#ad0a28"/>
<circle cx="504.5" cy="328.1" r="1.3" fill="#ad0a28"/>
<circle cx="501.4" cy="331.3" r="1.3" fill="#ad0a28"/>
<circle cx="501.4" cy="335.7" r="1.3" fill="#ad0a28"/>
<rect x="0.6" y="0.6" width="518.8" height="399.8" fill="none" stroke="#000" stroke-width="1.5"/>
</svg></div>
</body></html>
